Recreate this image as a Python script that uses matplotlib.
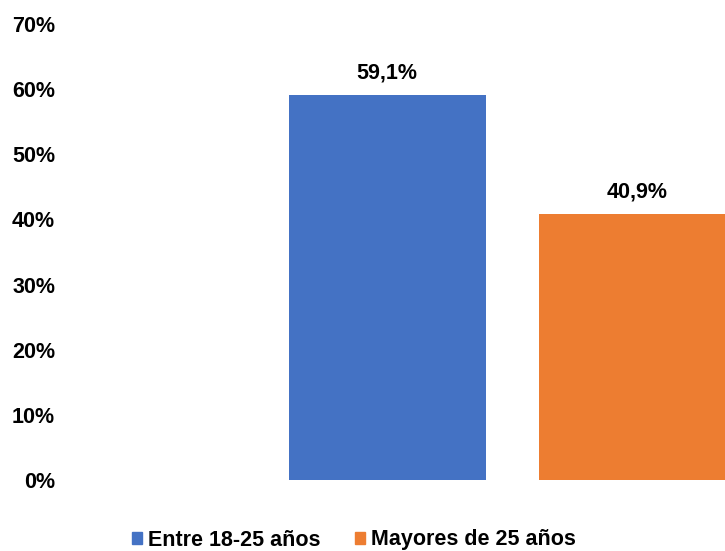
import matplotlib
matplotlib.use('Agg')
import matplotlib.pyplot as plt
from matplotlib.patches import Patch

plt.rcParams['font.family'] = ['Liberation Sans', 'DejaVu Sans']

series = ['Entre 18-25 años', 'Mayores de 25 años']
values = [59.1, 40.9]
labels = ['59,1%', '40,9%']
colors = ['#4472C4', '#ED7D31']
yticks = [0, 10, 20, 30, 40, 50, 60, 70]

W, H = 725, 551
fig = plt.figure(figsize=(W / 100, H / 100), dpi=100)
# axes box in pixels: left 62, bottom at y=480, top at y=24
ax = fig.add_axes([62 / W, 1 - 480 / H, 1 - 62 / W, (480 - 24) / H])

xs = [0, 1]
bw = 0.788
ax.bar(xs, values, width=bw, color=colors, zorder=2)
for x, v, t in zip(xs, values, labels):
    ax.annotate(t, (x, v), xytext=(0, 8), textcoords='offset points',
                ha='center', va='bottom', fontsize=15.5, fontweight='bold')

# blue center at 387px, 250px per unit
left = -(387 - 62) / 250
ax.set_xlim(left, left + (W - 62) / 250)
ax.set_ylim(0, 70)
ax.set_yticks(yticks)
ax.set_yticklabels([f'{t}%' for t in yticks], fontsize=15.5, fontweight='bold')
ax.tick_params(axis='y', length=0, pad=5)
ax.set_xticks([])
for s in ax.spines.values():
    s.set_visible(False)

handles = [Patch(color=c, label=s) for c, s in zip(colors, series)]
leg = fig.legend(handles=handles, loc='center', bbox_to_anchor=(354 / W, 1 - 540 / H),
                 ncol=2, frameon=False, handlelength=0.45, handleheight=0.45,
                 handletextpad=0.3, columnspacing=1.6,
                 prop={'size': 15.5, 'weight': 'bold'})

fig.savefig('out.png', dpi=100)
